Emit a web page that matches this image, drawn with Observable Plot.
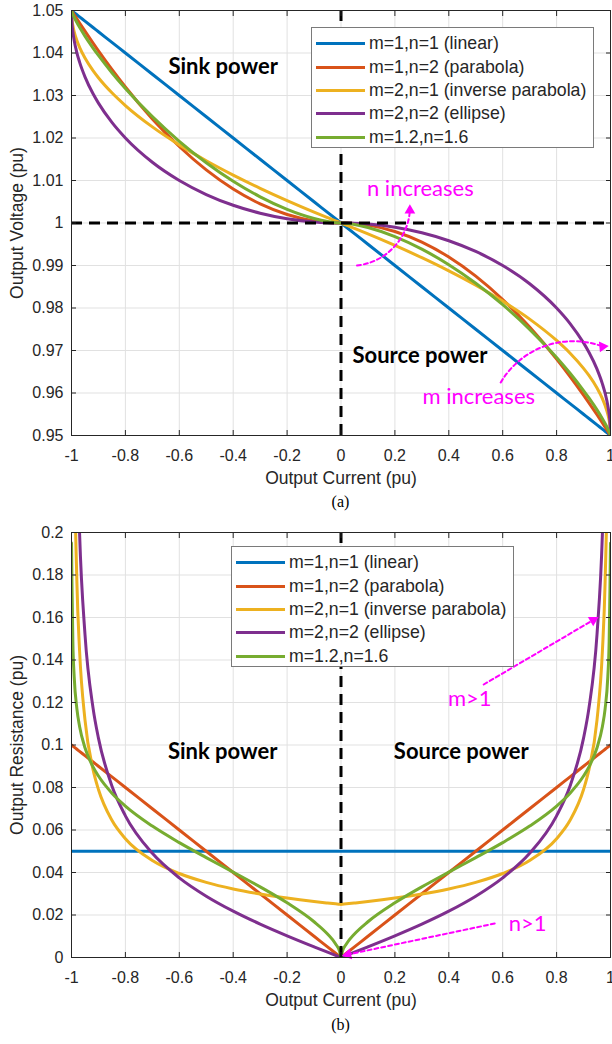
<!DOCTYPE html>
<html>
<head>
<meta charset="utf-8">
<script src="https://cdn.jsdelivr.net/npm/d3@7"></script>
<script src="https://cdn.jsdelivr.net/npm/@observablehq/plot@0.6"></script>
<style>
  body { margin: 0; background: #fff; }
  #root { position: relative; width: 612px; height: 1044px; font-family: "Liberation Sans", Arial, sans-serif; color: #262626; }
  .panel { position: absolute; left: 0; }
  .caption { position: absolute; left: 71px; width: 539px; text-align: center; font-family: "Liberation Serif", "Times New Roman", serif; font-size: 16px; color: #000; }
  .legend { position: absolute; width: 283px; height: 121px; box-sizing: border-box; background: #fff; border: 1px solid #7a7a7a; padding-top: 4px; }
  .legend .row { display: flex; align-items: center; height: 23.4px; font-size: 17.7px; color: #262626; white-space: nowrap; }
  .legend .sw { width: 49px; height: 3px; margin-right: 4px; }
</style>
</head>
<body>
<div id="root"></div>
<script>
// ---------- data ----------
const current = [-1, -0.998, -0.995, -0.99, -0.98, -0.97, -0.95, -0.92, -0.9, -0.85, -0.8, -0.7, -0.6, -0.5, -0.4, -0.3, -0.2, -0.1, -0.05, -0.02, -0.005, 0,
  0.005, 0.02, 0.05, 0.1, 0.2, 0.3, 0.4, 0.5, 0.6, 0.7, 0.8, 0.85, 0.9, 0.92, 0.95, 0.97, 0.98, 0.99, 0.995, 0.998, 1];

const voltageLinear = [1.05, 1.0499, 1.04975, 1.0495, 1.049, 1.0485, 1.0475, 1.046, 1.045, 1.0425, 1.04, 1.035, 1.03, 1.025, 1.02, 1.015, 1.01, 1.005, 1.0025, 1.001, 1.00025, 1,
  0.99975, 0.999, 0.9975, 0.995, 0.99, 0.985, 0.98, 0.975, 0.97, 0.965, 0.96, 0.9575, 0.955, 0.954, 0.9525, 0.9515, 0.951, 0.9505, 0.95025, 0.9501, 0.95];
const voltageParabola = [1.05, 1.0498, 1.0495, 1.04901, 1.04802, 1.04705, 1.04513, 1.04232, 1.0405, 1.03613, 1.032, 1.0245, 1.018, 1.0125, 1.008, 1.0045, 1.002, 1.0005, 1.00013, 1.00002, 1, 1,
  1, 0.99998, 0.99988, 0.9995, 0.998, 0.9955, 0.992, 0.9875, 0.982, 0.9755, 0.968, 0.96388, 0.9595, 0.95768, 0.95488, 0.95296, 0.95198, 0.951, 0.9505, 0.9502, 0.95];
const voltageInverseParabola = [1.05, 1.04776, 1.04646, 1.045, 1.04293, 1.04134, 1.03882, 1.03586, 1.03419, 1.03064, 1.02764, 1.02261, 1.01838, 1.01464, 1.01127, 1.00817, 1.00528, 1.00257, 1.00127, 1.0005, 1.00013, 1,
  0.99987, 0.9995, 0.99873, 0.99743, 0.99472, 0.99183, 0.98873, 0.98536, 0.98162, 0.97739, 0.97236, 0.96937, 0.96581, 0.96414, 0.96118, 0.95866, 0.95707, 0.955, 0.95354, 0.95224, 0.95];
const voltageEllipse = [1.05, 1.04684, 1.04501, 1.04295, 1.04005, 1.03785, 1.03439, 1.0304, 1.02821, 1.02366, 1.02, 1.01429, 1.01, 1.0067, 1.00417, 1.0023, 1.00101, 1.00025, 1.00006, 1.00001, 1, 1,
  1, 0.99999, 0.99994, 0.99975, 0.99899, 0.9977, 0.99583, 0.9933, 0.99, 0.98571, 0.98, 0.97634, 0.97179, 0.9696, 0.96561, 0.96216, 0.95995, 0.95705, 0.95499, 0.95316, 0.95];
const voltageMixed = [1.05, 1.04958, 1.04911, 1.04841, 1.04717, 1.04605, 1.04398, 1.04117, 1.03942, 1.03536, 1.03165, 1.02502, 1.01923, 1.01418, 1.00982, 1.00615, 1.00319, 1.00105, 1.00035, 1.00008, 1.00001, 1,
  0.99999, 0.99992, 0.99966, 0.99895, 0.99681, 0.99385, 0.99018, 0.98582, 0.98077, 0.97498, 0.96835, 0.96464, 0.96058, 0.95883, 0.95602, 0.95395, 0.95283, 0.95159, 0.95089, 0.95042, 0.95];

const resistanceLinear = [0.05, 0.05, 0.05, 0.05, 0.05, 0.05, 0.05, 0.05, 0.05, 0.05, 0.05, 0.05, 0.05, 0.05, 0.05, 0.05, 0.05, 0.05, 0.05, 0.05, 0.05, 0.05,
  0.05, 0.05, 0.05, 0.05, 0.05, 0.05, 0.05, 0.05, 0.05, 0.05, 0.05, 0.05, 0.05, 0.05, 0.05, 0.05, 0.05, 0.05, 0.05, 0.05, 0.05];
const resistanceParabola = [0.1, 0.0998, 0.0995, 0.099, 0.098, 0.097, 0.095, 0.092, 0.09, 0.085, 0.08, 0.07, 0.06, 0.05, 0.04, 0.03, 0.02, 0.01, 0.005, 0.002, 0.0005, 0,
  0.0005, 0.002, 0.005, 0.01, 0.02, 0.03, 0.04, 0.05, 0.06, 0.07, 0.08, 0.085, 0.09, 0.092, 0.095, 0.097, 0.098, 0.099, 0.0995, 0.0998, 0.1];
const resistanceInverseParabola = [null, 0.55902, 0.35355, 0.25, 0.17678, 0.14434, 0.1118, 0.08839, 0.07906, 0.06455, 0.0559, 0.04564, 0.03953, 0.03536, 0.03227, 0.02988, 0.02795, 0.02635, 0.02565, 0.02525, 0.02506, 0.025,
  0.02506, 0.02525, 0.02565, 0.02635, 0.02795, 0.02988, 0.03227, 0.03536, 0.03953, 0.04564, 0.0559, 0.06455, 0.07906, 0.08839, 0.1118, 0.14434, 0.17678, 0.25, 0.35355, 0.55902, null];
const resistanceEllipse = [null, 0.78938, 0.49812, 0.3509, 0.24624, 0.1995, 0.15212, 0.11737, 0.10324, 0.08068, 0.06667, 0.04901, 0.0375, 0.02887, 0.02182, 0.01572, 0.01021, 0.00503, 0.0025, 0.001, 0.00025, 0,
  0.00025, 0.001, 0.0025, 0.00503, 0.01021, 0.01572, 0.02182, 0.02887, 0.0375, 0.04901, 0.06667, 0.08068, 0.10324, 0.11737, 0.15212, 0.1995, 0.24624, 0.3509, 0.49812, 0.78938, null];
const resistanceMixed = [0.195, 0.17347, 0.14864, 0.13208, 0.11701, 0.10875, 0.09873, 0.08969, 0.08538, 0.07732, 0.07126, 0.06184, 0.05407, 0.04702, 0.04019, 0.03323, 0.02572, 0.01682, 0.01106, 0.00638, 0.00278, 0,
  0.00278, 0.00638, 0.01106, 0.01682, 0.02572, 0.03323, 0.04019, 0.04702, 0.05407, 0.06184, 0.07126, 0.07732, 0.08538, 0.08969, 0.09873, 0.10875, 0.11701, 0.13208, 0.14864, 0.17347, 0.195];

const seriesNames = ["m=1,n=1 (linear)", "m=1,n=2 (parabola)", "m=2,n=1 (inverse parabola)", "m=2,n=2 (ellipse)", "m=1.2,n=1.6"];
const currentTicks = [-1, -0.8, -0.6, -0.4, -0.2, 0, 0.2, 0.4, 0.6, 0.8, 1];
const voltageTicks = [0.95, 0.96, 0.97, 0.98, 0.99, 1, 1.01, 1.02, 1.03, 1.04, 1.05];
const resistanceTicks = [0, 0.02, 0.04, 0.06, 0.08, 0.1, 0.12, 0.14, 0.16, 0.18, 0.2];

// ---------- styles ----------
const seriesColors = ["#0072BD", "#D95319", "#EDB120", "#7E2F8E", "#77AC30"];
const MAGENTA = "#FF00FF";
const GRID = "#e1e1e1";
const AXIS = "#262626";

function tidy(arrays) {
  return arrays.flatMap((arr, s) => arr.map((v, k) => ({series: seriesNames[s], current: current[k], value: v})));
}
const voltageData = tidy([voltageLinear, voltageParabola, voltageInverseParabola, voltageEllipse, voltageMixed]);
const resistanceData = tidy([resistanceLinear, resistanceParabola, resistanceInverseParabola, resistanceEllipse, resistanceMixed]);

const boldText = {fontFamily: "Lato", fontWeight: "bold", fontSize: 22, fill: "black"};
const noteText = {fontFamily: "Lato", fontSize: 22, fill: MAGENTA};
const dotted = {stroke: MAGENTA, strokeWidth: 2, strokeDasharray: "4,3", headLength: 0};
const head = {symbol: "triangle", r: 4, fill: MAGENTA, stroke: "none"};
const blackDash = {stroke: "black", strokeWidth: 3, strokeDasharray: "11,7"};

function panel({yDomain, yTicks, data, marginTop, yLabel, extra}) {
  return Plot.plot({
    width: 612,
    height: marginTop + 425 + 55,
    marginLeft: 71, marginRight: 2, marginTop, marginBottom: 55,
    style: {fontFamily: "Liberation Sans, Arial, sans-serif", fontSize: "16px", background: "white", color: AXIS, overflow: "visible"},
    x: {domain: [-1, 1], label: null},
    y: {domain: yDomain, label: null},
    color: {domain: seriesNames, range: seriesColors},
    marks: [
      Plot.gridX(currentTicks, {stroke: GRID, strokeOpacity: 1}),
      Plot.gridY(yTicks, {stroke: GRID, strokeOpacity: 1}),
      Plot.line(data, {x: "current", y: "value", z: "series", stroke: "series", strokeWidth: 3, curve: "monotone-x", clip: true}),
      ...extra,
      Plot.axisX(currentTicks, {anchor: "bottom", tickSize: -5, tickPadding: 19, tickFormat: d => String(d), fontSize: 16, label: null, color: AXIS}),
      Plot.axisX(currentTicks, {anchor: "top", tickSize: -5, tickFormat: () => "", label: null, color: AXIS}),
      Plot.axisY(yTicks, {anchor: "left", tickSize: -5, tickPadding: 13, tickFormat: d => String(d), fontSize: 16, label: null, color: AXIS}),
      Plot.axisY(yTicks, {anchor: "right", tickSize: -5, tickFormat: () => "", label: null, color: AXIS}),
      Plot.frame({stroke: AXIS, strokeWidth: 1}),
      Plot.text(["Output Current (pu)"], {frameAnchor: "bottom", text: d => d, dy: 43, lineAnchor: "middle", textAnchor: "middle", fontSize: 17.5, fill: AXIS}),
      Plot.text([yLabel], {frameAnchor: "left", text: d => d, rotate: -90, dx: -54, lineAnchor: "middle", textAnchor: "middle", fontSize: 17.5, fill: AXIS})
    ]
  });
}

const voltagePanel = panel({
  yDomain: [0.95, 1.05], yTicks: voltageTicks, data: voltageData, marginTop: 10, yLabel: "Output Voltage (pu)",
  extra: [
    Plot.ruleX([0], blackDash),
    Plot.ruleY([1], blackDash),
    Plot.text([{x: -0.437, y: 1.0368, t: "Sink power"}], {x: "x", y: "y", text: "t", ...boldText}),
    Plot.text([{x: 0.293, y: 0.9688, t: "Source power"}], {x: "x", y: "y", text: "t", ...boldText}),
    Plot.text([{x: 0.2944, y: 1.0081, t: "n increases"}], {x: "x", y: "y", text: "t", ...noteText}),
    Plot.text([{x: 0.5111, y: 0.95918, t: "m increases"}], {x: "x", y: "y", text: "t", ...noteText}),
    Plot.arrow([{x1: 0.0593, y1: 0.99, x2: 0.2556, y2: 1.00294}], {x1: "x1", y1: "y1", x2: "x2", y2: "y2", bend: -40, ...dotted}),
    Plot.dot([{x: 0.2556, y: 1.00294}], {x: "x", y: "y", rotate: 0, ...head}),
    Plot.arrow([{x1: 0.5926, y1: 0.96247, x2: 0.9704, y2: 0.97094}], {x1: "x1", y1: "y1", x2: "x2", y2: "y2", bend: 40, ...dotted}),
    Plot.dot([{x: 0.9704, y: 0.97094}], {x: "x", y: "y", rotate: 85, ...head})
  ]
});

const resistancePanel = panel({
  yDomain: [0, 0.2], yTicks: resistanceTicks, data: resistanceData, marginTop: 12, yLabel: "Output Resistance (pu)",
  extra: [
    Plot.ruleX([0], blackDash),
    Plot.text([{x: -0.4389, y: 0.0969, t: "Sink power"}], {x: "x", y: "y", text: "t", ...boldText}),
    Plot.text([{x: 0.4463, y: 0.0969, t: "Source power"}], {x: "x", y: "y", text: "t", ...boldText}),
    Plot.text([{x: 0.4778, y: 0.1219, t: "m>1"}], {x: "x", y: "y", text: "t", ...noteText}),
    Plot.text([{x: 0.6926, y: 0.016, t: "n>1"}], {x: "x", y: "y", text: "t", ...noteText}),
    Plot.arrow([{x1: 0.5296, y1: 0.12847, x2: 0.9359, y2: 0.15882}], {x1: "x1", y1: "y1", x2: "x2", y2: "y2", ...dotted}),
    Plot.dot([{x: 0.9359, y: 0.15882}], {x: "x", y: "y", rotate: 60, ...head}),
    Plot.arrow([{x1: 0.5704, y1: 0.016, x2: 0.0259, y2: 0.00141}], {x1: "x1", y1: "y1", x2: "x2", y2: "y2", ...dotted}),
    Plot.dot([{x: 0.0259, y: 0.00141}], {x: "x", y: "y", rotate: 258, ...head})
  ]
});

const root = document.getElementById("root");
function place(node, topPx) {
  const d = document.createElement("div");
  d.className = "panel"; d.style.top = topPx + "px";
  d.appendChild(node); root.appendChild(d);
}
place(voltagePanel, 0);
place(resistancePanel, 520);

function legend(leftPx, topPx) {
  const box = document.createElement("div");
  box.className = "legend";
  box.style.left = leftPx + "px"; box.style.top = topPx + "px";
  seriesNames.forEach((name, i) => {
    const row = document.createElement("div"); row.className = "row";
    const sw = document.createElement("span"); sw.className = "sw";
    sw.style.background = seriesColors[i];
    sw.style.marginLeft = "4px";
    const tx = document.createElement("span"); tx.textContent = name;
    row.appendChild(sw); row.appendChild(tx); box.appendChild(row);
  });
  root.appendChild(box);
}
legend(311, 27);
legend(231, 546);

function caption(text, topPx) {
  const c = document.createElement("div"); c.className = "caption";
  c.style.top = topPx + "px"; c.textContent = text; root.appendChild(c);
}
caption("(a)", 493);
caption("(b)", 1016);
</script>
</body>
</html>
